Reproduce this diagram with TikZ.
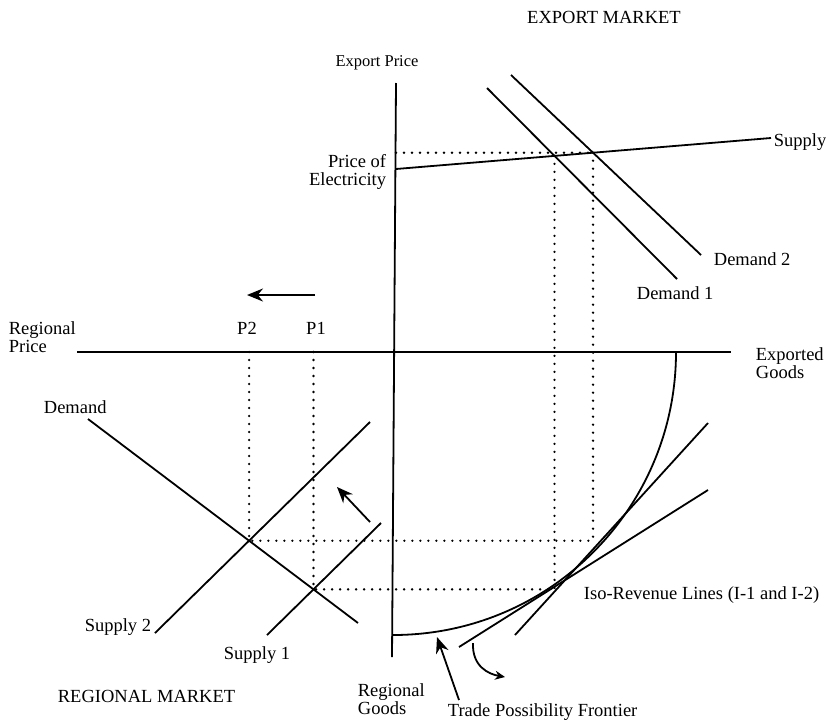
\documentclass[tikz,border=0pt]{standalone}
\usepackage{fontspec}
\setmainfont{Liberation Serif}
\usetikzlibrary{arrows.meta,intersections}

\begin{document}
\begin{tikzpicture}[x=1pt,y=-1pt,line width=1.8pt,
		t/.style={font=\fontsize{18.5}{17.5}\selectfont,inner sep=0pt},
		dots/.style={line width=2.6pt,line cap=round,dash pattern=on 0pt off 8pt},
		arr/.style={-{Stealth[length=16pt,width=13pt]}}]
	\useasboundingbox (0,0) rectangle (826,723);
	\coordinate (Pt) at (396,83);
	\coordinate (Gb) at (392,657);
	\coordinate (Rl) at (77,352);
	\coordinate (Er) at (731,352);
	\draw (Pt) -- (Gb);
	\draw (Rl) -- (Er);
	% export market
	\coordinate (S0) at (396,169);
	\coordinate (S1) at (771,138);
	\coordinate (D1a) at (487,88);
	\coordinate (D1b) at (677,279);
	\coordinate (D2a) at (511,75);
	\coordinate (D2b) at (701,255);
	\draw[name path=sup] (S0) -- (S1);
	\draw[name path=d1] (D1a) -- (D1b);
	\draw[name path=d2] (D2a) -- (D2b);
	\path[name intersections={of=sup and d1,by=E1}];
	\path[name intersections={of=sup and d2,by=E2}];
	% regional market
	\coordinate (Da) at (88,419);
	\coordinate (Db) at (358,623);
	\coordinate (S2a) at (155,633);
	\coordinate (S2b) at (370,422);
	\coordinate (S1a) at (267,635);
	\coordinate (S1b) at (381,523);
	\draw[name path=dr] (Da) -- (Db);
	\draw[name path=s2] (S2a) -- (S2b);
	\draw[name path=s1] (S1a) -- (S1b);
	\path[name intersections={of=dr and s2,by=R2}];
	\path[name intersections={of=dr and s1,by=R1}];
	% frontier and iso-revenue lines
	\coordinate (F0) at (393,635);
	\coordinate (F1) at (676,352);
	\draw (F0) .. controls (549.7,635) and (676,508.3) .. (F1);
	\coordinate (I1a) at (515,635);
	\coordinate (I1b) at (708,423);
	\coordinate (I2a) at (459,647);
	\coordinate (I2b) at (708,490);
	\draw (I1a) -- (I1b);
	\draw (I2a) -- (I2b);
	% dotted links
	\draw[dots] (E2 -| Pt) -- (E2);
	\draw[dots] (E1) -- (E1 |- R1);
	\draw[dots] (E2) -- (E2 |- R2);
	\draw[dots] (R2 |- Rl) -- (R2) -- (E2 |- R2);
	\draw[dots] (R1 |- Rl) -- (R1) -- (E1 |- R1);
	% arrows
	\coordinate (A0) at (315,295);
	\coordinate (A1) at (247,295);
	\coordinate (B0) at (370,522);
	\coordinate (B1) at (337,487);
	\coordinate (C0) at (459,700);
	\coordinate (C1) at (437,637);
	\coordinate (K0) at (473,643);
	\coordinate (K1) at (505,677);
	\draw[arr] (A0) -- (A1);
	\draw[arr] (B0) -- (B1);
	\draw[arr] (C0) -- (C1);
	\draw[-{Stealth[length=10pt,width=9pt]}] (K0) .. controls (472,666) and (488,674) .. (K1);
	% labels
	\node[t,anchor=base,font=\fontsize{18.5}{18}\selectfont] (em) at (604,23) {EXPORT MARKET};
	\node[t,anchor=base,font=\fontsize{16.5}{16}\selectfont] (ep) at (377,66) {Export Price};
	\node[t,anchor=east,align=right] (pe) at (387,172) {Price of\\Electricity};
	\node[t,anchor=base west] (sl) at (773,146) {Supply};
	\node[t,anchor=base west] (d2l) at (713,265) {Demand 2};
	\node[t,anchor=base west] (d1l) at (636,299) {Demand 1};
	\node[t,anchor=west,align=left] (rp) at (8,337) {Regional\\Price};
	\node[t,anchor=base] (p2) at (247,334) {P2};
	\node[t,anchor=base] (p1) at (316,334) {P1};
	\node[t,anchor=west,align=left] (eg) at (755,363) {Exported\\Goods};
	\node[t,anchor=base west] (dl) at (43,413) {Demand};
	\node[t,anchor=base east] (s2l) at (152,631) {Supply 2};
	\node[t,anchor=base west] (s1l) at (223,659) {Supply 1};
	\node[t,anchor=base west] (rm) at (57,702) {REGIONAL MARKET};
	\node[t,anchor=west,align=left] (rg) at (357,699) {Regional\\Goods};
	\node[t,anchor=base west] (il) at (583,599) {Iso-Revenue Lines (I-1 and I-2)};
	\node[t,anchor=base west] (tl) at (447,716) {Trade Possibility Frontier};
\end{tikzpicture}
\end{document}
